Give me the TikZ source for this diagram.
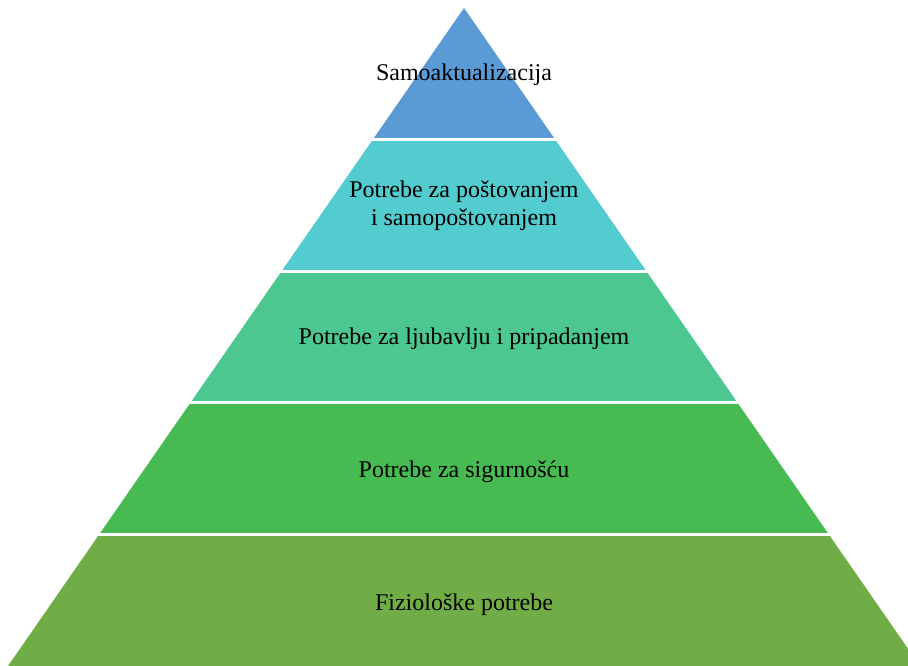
\documentclass[tikz,border=0pt]{standalone}
\usepackage{fontspec}
\setmainfont{Liberation Serif}
\usetikzlibrary{calc}
\definecolor{tierA}{RGB}{91,155,213}
\definecolor{tierB}{RGB}{82,204,206}
\definecolor{tierC}{RGB}{75,199,143}
\definecolor{tierD}{RGB}{71,187,82}
\definecolor{tierE}{RGB}{112,173,71}
\begin{document}
\begin{tikzpicture}[x=1pt,y=-1pt,
  gapline/.style={draw=white,line width=3pt},
  lbl/.style={font=\fontsize{24}{28}\selectfont,align=center,text=black,inner sep=0pt}]
\useasboundingbox (0,0) rectangle (908,666);
\clip (0,0) rectangle (908,666);
\coordinate (A) at (464,8);
\coordinate (BL) at (8,666);
\coordinate (BR) at (920,666);
\foreach \i/\c in {0/tierA,1/tierB,2/tierC,3/tierD,4/tierE} {
  \pgfmathsetmacro\ta{\i/5}
  \pgfmathsetmacro\tb{(\i+1)/5}
  \fill[\c] ($(A)!\ta!(BL)$) -- ($(A)!\tb!(BL)$) -- ($(A)!\tb!(BR)$) -- ($(A)!\ta!(BR)$) -- cycle;
}
\foreach \i in {1,2,3,4} {
  \pgfmathsetmacro\ta{\i/5}
  \draw[gapline] ($(A)!\ta!(BL)+(-5,0)$) -- ($(A)!\ta!(BR)+(5,0)$);
}
\node[lbl] (t1) at (464,75) {Samoaktualizacija};
\node[lbl] (t2) at (464,206) {Potrebe za poštovanjem\\i samopoštovanjem};
\node[lbl] (t3) at (464,339) {Potrebe za ljubavlju i pripadanjem};
\node[lbl] (t4) at (464,472) {Potrebe za sigurnošću};
\node[lbl] (t5) at (464,605) {Fiziološke potrebe};
\end{tikzpicture}
\end{document}
